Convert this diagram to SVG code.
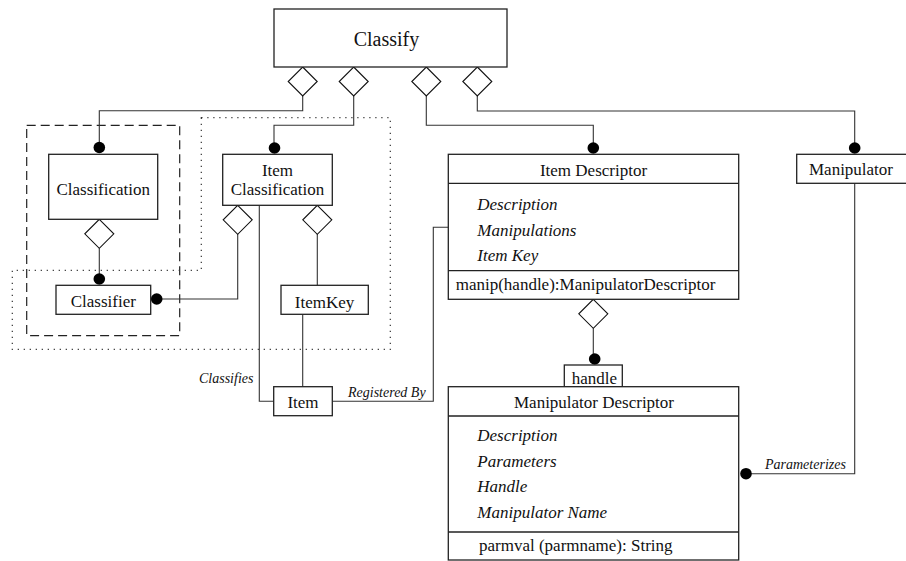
<svg xmlns="http://www.w3.org/2000/svg" xmlns:xlink="http://www.w3.org/1999/xlink" width="906" height="561" viewBox="0 0 906 561">
  <style>
    .box { fill: #fff; stroke: #222; stroke-width: 1.3; }
    .sep { stroke: #222; stroke-width: 1.3; }
    .wire { fill: none; stroke: #333; stroke-width: 1.1; }
    .dia { fill: #fff; stroke: #111; stroke-width: 1.1; }
    .dot { fill: #000; }
    text { font-family: 'Liberation Serif', 'DejaVu Serif', serif; fill: #111; }
    .t { font-size: 17px; }
    .big { font-size: 20px; }
    .attr { font-style: italic; }
    .lbl { font-size: 14px; font-style: italic; }
    .mid { text-anchor: middle; }
    .dashed { fill: none; stroke: #222; stroke-width: 1.2; stroke-dasharray: 9 5; }
    .dotted { fill: none; stroke: #333; stroke-width: 1.2; stroke-dasharray: 1.2 4.8; }
  </style>
  <defs>
    <!-- aggregation diamond, anchored at its top point -->
    <path id="diamond" class="dia" d="M0,0 L14.5,14.5 L0,29 L-14.5,14.5 Z"/>
    <circle id="ball" class="dot" r="5.8"/>
  </defs>

  <!-- package outlines -->
  <g id="groups">
    <rect class="dashed" x="26.7" y="125.3" width="153" height="210.4"/>
    <path class="dotted" d="M201.3,117.7 L390.3,117.7 L390.3,349.3 L12.3,349.3 L12.3,270.3 L201.3,270.3 Z"/>
  </g>

  <!-- connectors -->
  <g id="connectors">
    <path class="wire" d="M302.7,96 V110.7 H99.3 V148"/>
    <path class="wire" d="M353.7,96 V125.3 H274 V148"/>
    <path class="wire" d="M426.3,96 V125.3 H593.3 V148"/>
    <path class="wire" d="M477.3,96 V111 H854.7 V148"/>
    <path class="wire" d="M99.3,248.3 V279"/>
    <path class="wire" d="M237.7,233.7 V299 H157"/>
    <path class="wire" d="M317.3,233.7 V285.3"/>
    <path class="wire" d="M302.7,314.3 V386.7"/>
    <path class="wire" d="M259.3,205.3 V401.3 H273.7"/>
    <path class="wire" d="M332.3,401.3 H433.3 V227.3 H448.3"/>
    <path class="wire" d="M593.3,328.3 V359"/>
    <path class="wire" d="M854.7,183.3 V473.7 H746"/>

    <use xlink:href="#diamond" x="302.7" y="67"/>
    <use xlink:href="#diamond" x="353.7" y="67"/>
    <use xlink:href="#diamond" x="426.3" y="67"/>
    <use xlink:href="#diamond" x="477.3" y="67"/>
    <use xlink:href="#diamond" x="99.3" y="219.3"/>
    <use xlink:href="#diamond" x="237.7" y="205.3"/>
    <use xlink:href="#diamond" x="317.3" y="205.3"/>
    <use xlink:href="#diamond" x="593.3" y="299.3"/>

    <use xlink:href="#ball" x="99.3" y="147.5"/>
    <use xlink:href="#ball" x="274.5" y="148"/>
    <use xlink:href="#ball" x="593.3" y="148"/>
    <use xlink:href="#ball" x="854.7" y="148"/>
    <use xlink:href="#ball" x="99.3" y="279"/>
    <use xlink:href="#ball" x="156.7" y="299"/>
    <use xlink:href="#ball" x="594.7" y="359"/>
    <use xlink:href="#ball" x="746" y="473.7"/>

    <text class="lbl" x="199" y="383">Classifies</text>
    <text class="lbl" x="348" y="397">Registered By</text>
    <text class="lbl" x="765" y="469">Parameterizes</text>
  </g>

  <!-- classes -->
  <g id="classify">
    <rect class="box" x="274" y="9" width="233" height="58"/>
    <text class="t big mid" x="386.5" y="46">Classify</text>
  </g>

  <g id="classification">
    <rect class="box" x="48.7" y="154.3" width="109" height="65"/>
    <text class="t mid" x="103.2" y="195">Classification</text>
  </g>

  <g id="classifier">
    <rect class="box" x="56" y="285.3" width="94.7" height="29"/>
    <text class="t mid" x="103.3" y="306.7">Classifier</text>
  </g>

  <g id="item-classification">
    <rect class="box" x="222.7" y="154.3" width="109.6" height="51"/>
    <text class="t mid" x="277.5" y="176">Item</text>
    <text class="t mid" x="277.5" y="195">Classification</text>
  </g>

  <g id="itemkey">
    <rect class="box" x="281" y="285.3" width="87.3" height="29"/>
    <text class="t mid" x="324.6" y="307.5">ItemKey</text>
  </g>

  <g id="item">
    <rect class="box" x="273.7" y="386.7" width="58.6" height="29"/>
    <text class="t mid" x="303" y="408.3">Item</text>
  </g>

  <g id="item-descriptor">
    <rect class="box" x="448.3" y="154.3" width="290.4" height="145"/>
    <line class="sep" x1="448.3" y1="183.3" x2="738.7" y2="183.3"/>
    <line class="sep" x1="448.3" y1="270.7" x2="738.7" y2="270.7"/>
    <text class="t mid" x="593.5" y="175.7">Item Descriptor</text>
    <text class="t attr" x="477.3" y="210">Description</text>
    <text class="t attr" x="477.3" y="235.7">Manipulations</text>
    <text class="t attr" x="477.3" y="261">Item Key</text>
    <text class="t" x="455.7" y="289.5">manip(handle):ManipulatorDescriptor</text>
  </g>

  <g id="manipulator">
    <rect class="box" x="796.7" y="154.3" width="112" height="29"/>
    <text class="t mid" x="851" y="175">Manipulator</text>
  </g>

  <g id="handle">
    <rect class="box" x="564.3" y="365" width="58" height="21.7"/>
    <text class="t mid" x="594.3" y="384">handle</text>
  </g>

  <g id="manipulator-descriptor">
    <rect class="box" x="448.3" y="386.7" width="290.4" height="173.3"/>
    <line class="sep" x1="448.3" y1="416" x2="738.7" y2="416"/>
    <line class="sep" x1="448.3" y1="532" x2="738.7" y2="532"/>
    <text class="t mid" x="594" y="407.7">Manipulator Descriptor</text>
    <text class="t attr" x="477.3" y="440.7">Description</text>
    <text class="t attr" x="477.3" y="466.7">Parameters</text>
    <text class="t attr" x="477.3" y="492.3">Handle</text>
    <text class="t attr" x="477.3" y="518">Manipulator Name</text>
    <text class="t" x="479" y="550.5">parmval (parmname): String</text>
  </g>
</svg>
